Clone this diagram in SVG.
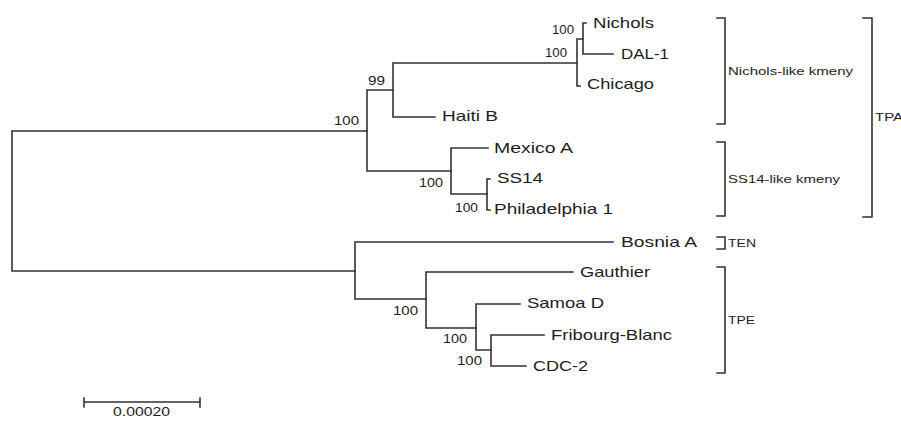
<svg xmlns="http://www.w3.org/2000/svg" width="901" height="421" viewBox="0 0 901 421">
<style>
.br{fill:none;stroke:#333333;stroke-width:1.6;stroke-linecap:square}
.leaf{font-family:"Liberation Sans",Arial,sans-serif;font-size:14.5px;fill:#1e1e1e}
.bs{font-family:"Liberation Sans",Arial,sans-serif;font-size:12.5px;fill:#1e1e1e}
.cl{font-family:"Liberation Sans",Arial,sans-serif;font-size:11.5px;fill:#1e1e1e}
</style>
<rect width="901" height="421" fill="#ffffff"/>
<g id="connectors" class="br">
<path d="M12 131V271M12 131H367M12 271H355"/>
<path d="M367 90V171M367 90H393M367 171H451"/>
<path d="M393 63V117M393 63H577M393 117H435"/>
<path d="M577 39V86M577 39H583M577 86H580"/>
<path d="M583 23V54M583 23H586M583 54H613"/>
<path d="M451 148V194M451 148H488M451 194H487"/>
<path d="M487 179V210M487 179H490M487 210H490"/>
<path d="M355 242V299M355 242H613M355 299H426"/>
<path d="M426 272V328M426 272H573M426 328H476"/>
<path d="M476 304V350M476 304H520M476 350H491"/>
<path d="M491 335V366M491 335H544M491 366H526"/>
</g>
<g id="bootstrap">
<text class="bs" x="334" y="125" textLength="25" lengthAdjust="spacingAndGlyphs">100</text>
<text class="bs" x="368" y="85" textLength="17" lengthAdjust="spacingAndGlyphs">99</text>
<text class="bs" x="552" y="34" textLength="22" lengthAdjust="spacingAndGlyphs">100</text>
<text class="bs" x="545" y="57" textLength="22" lengthAdjust="spacingAndGlyphs">100</text>
<text class="bs" x="419" y="187" textLength="24" lengthAdjust="spacingAndGlyphs">100</text>
<text class="bs" x="455" y="212" textLength="23" lengthAdjust="spacingAndGlyphs">100</text>
<text class="bs" x="393" y="315" textLength="25" lengthAdjust="spacingAndGlyphs">100</text>
<text class="bs" x="443" y="343" textLength="24" lengthAdjust="spacingAndGlyphs">100</text>
<text class="bs" x="457" y="365" textLength="25" lengthAdjust="spacingAndGlyphs">100</text>
</g>
<g id="leaf-nichols"><text class="leaf" x="593" y="28" textLength="61" lengthAdjust="spacingAndGlyphs">Nichols</text></g>
<g id="leaf-dal1"><text class="leaf" x="621" y="59" textLength="48" lengthAdjust="spacingAndGlyphs">DAL-1</text></g>
<g id="leaf-chicago"><text class="leaf" x="587" y="89" textLength="67" lengthAdjust="spacingAndGlyphs">Chicago</text></g>
<g id="leaf-haiti"><text class="leaf" x="442" y="121" textLength="56" lengthAdjust="spacingAndGlyphs">Haiti B</text></g>
<g id="leaf-mexico"><text class="leaf" x="494" y="153" textLength="79" lengthAdjust="spacingAndGlyphs">Mexico A</text></g>
<g id="leaf-ss14"><text class="leaf" x="497" y="183" textLength="46" lengthAdjust="spacingAndGlyphs">SS14</text></g>
<g id="leaf-phil"><text class="leaf" x="494" y="214" textLength="119" lengthAdjust="spacingAndGlyphs">Philadelphia 1</text></g>
<g id="leaf-bosnia"><text class="leaf" x="621" y="247" textLength="76" lengthAdjust="spacingAndGlyphs">Bosnia A</text></g>
<g id="leaf-gauthier"><text class="leaf" x="580" y="277" textLength="70" lengthAdjust="spacingAndGlyphs">Gauthier</text></g>
<g id="leaf-samoa"><text class="leaf" x="527" y="308" textLength="77" lengthAdjust="spacingAndGlyphs">Samoa D</text></g>
<g id="leaf-fribourg"><text class="leaf" x="551" y="340" textLength="121" lengthAdjust="spacingAndGlyphs">Fribourg-Blanc</text></g>
<g id="leaf-cdc2"><text class="leaf" x="533" y="371" textLength="55" lengthAdjust="spacingAndGlyphs">CDC-2</text></g>
<g id="clade-nichols">
<path class="br" d="M717 18H725V124H717"/>
<text class="cl" x="728" y="75" textLength="125" lengthAdjust="spacingAndGlyphs">Nichols-like kmeny</text>
</g>
<g id="clade-ss14">
<path class="br" d="M717 142H725V216H717"/>
<text class="cl" x="728" y="183" textLength="112" lengthAdjust="spacingAndGlyphs">SS14-like kmeny</text>
</g>
<g id="clade-tpa">
<path class="br" d="M863 18H872V217H863"/>
<text class="cl" x="875" y="121" textLength="28" lengthAdjust="spacingAndGlyphs">TPA</text>
</g>
<g id="clade-ten">
<path class="br" d="M717 237H725V249H717"/>
<text class="cl" x="728" y="247" textLength="28" lengthAdjust="spacingAndGlyphs">TEN</text>
</g>
<g id="clade-tpe">
<path class="br" d="M717 267H725V373H717"/>
<text class="cl" x="728" y="324" textLength="27" lengthAdjust="spacingAndGlyphs">TPE</text>
</g>
<g id="scale-bar">
<path class="br" d="M84 402H200M84 398V407M200 398V407"/>
<text class="leaf" x="113" y="416" style="font-size:12.5px" textLength="57" lengthAdjust="spacingAndGlyphs">0.00020</text>
</g>
</svg>
